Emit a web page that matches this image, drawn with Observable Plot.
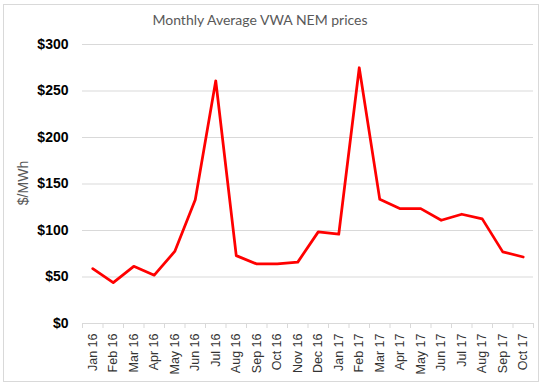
<!DOCTYPE html>
<html>
<head>
<meta charset="utf-8">
<script src="https://cdn.jsdelivr.net/npm/d3@7"></script>
<script src="https://cdn.jsdelivr.net/npm/@observablehq/plot@0.6"></script>
<style>
  html, body { margin: 0; padding: 0; background: #fff; }
  #wrap { position: relative; width: 547px; height: 386px; overflow: hidden; }
  #frame { position: absolute; left: 3px; top: 4px; width: 536px; height: 378px; border: 1px solid #d9d9d9; box-sizing: border-box; }
  #title { position: absolute; left: 0; width: 520px; top: 11px; text-align: center; font-family: Lato, sans-serif; font-size: 14px; color: #595959; }
  #ylab { position: absolute; left: 23px; top: 183px; transform: translate(-50%, -50%) rotate(-90deg); font-family: "Liberation Sans", Arial, sans-serif; font-size: 14px; color: #595959; white-space: nowrap; }
  #chart { position: absolute; left: 0; top: 0; }
</style>
</head>
<body>
<div id="wrap">
  <div id="frame"></div>
  <div id="chart"></div>
  <div id="title">Monthly Average VWA NEM prices</div>
  <div id="ylab">$/MWh</div>
</div>
<script>
const months = ["Jan 16","Feb 16","Mar 16","Apr 16","May 16","Jun 16","Jul 16","Aug 16","Sep 16","Oct 16","Nov 16","Dec 16",
                "Jan 17","Feb 17","Mar 17","Apr 17","May 17","Jun 17","Jul 17","Aug 17","Sep 17","Oct 17"];
const prices = [59, 44, 61.5, 52, 77.5, 133, 261, 73, 64, 64, 66, 98.5,
                96, 275, 133.5, 123.5, 123.5, 111, 117.5, 112.5, 77, 71.5];
const yTicks = [0, 50, 100, 150, 200, 250, 300];

const idx = months.map((m, i) => i);
const bounds = d3.range(months.length + 1).map(i => i - 0.5);

const chart = Plot.plot({
  width: 547,
  height: 386,
  marginTop: 44,
  marginBottom: 63,
  marginLeft: 82,
  marginRight: 14,
  style: { fontFamily: "'Liberation Sans', Arial, sans-serif", background: "transparent", overflow: "visible" },
  x: { type: "linear", domain: [-0.5, months.length - 0.5] },
  y: { domain: [0, 300] },
  marks: [
    Plot.gridY(yTicks.filter(d => d > 0), { stroke: "#d9d9d9", strokeOpacity: 1, strokeWidth: 1 }),
    Plot.ruleY([0], { stroke: "#d9d9d9", strokeWidth: 1 }),
    Plot.axisX({ ticks: bounds, tickSize: 5, tickFormat: () => "", stroke: "#d9d9d9", strokeOpacity: 1 }),
    Plot.axisX({ ticks: idx, tickSize: 0, tickPadding: 10, tickRotate: -90, tickFormat: i => months[i],
                 fontSize: 12.5, fill: "#333", label: null }),
    Plot.axisY({ ticks: yTicks, tickSize: 0, tickPadding: 14, tickFormat: d => "$" + d,
                 fontSize: 14, fontWeight: "bold", fill: "#000", label: null }),
    Plot.lineY(prices, { x: (d, i) => i, y: d => d, stroke: "#ff0000", strokeWidth: 2.75, strokeLinejoin: "round" })
  ]
});
document.getElementById("chart").appendChild(chart);
</script>
</body>
</html>
